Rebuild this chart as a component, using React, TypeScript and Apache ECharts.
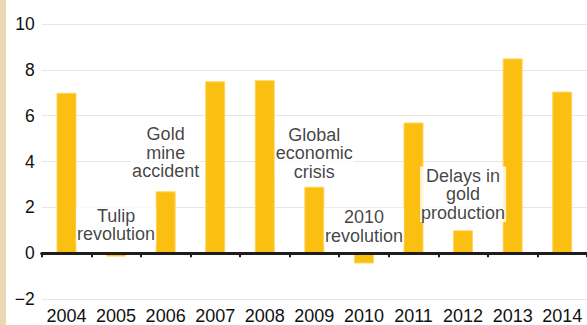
import React, { useEffect, useRef } from "react";
import * as echarts from "echarts";

const years = ["2004", "2005", "2006", "2007", "2008", "2009", "2010", "2011", "2012", "2013", "2014"];
const growth = [7.0, -0.15, 2.7, 7.5, 7.55, 2.9, -0.45, 5.7, 1.0, 8.5, 7.05];
const eventYears = ["2005", "2006", "2009", "2010", "2012"];
const eventTexts = ["Tulip\nrevolution", "Gold\nmine\naccident", "Global\neconomic\ncrisis", "2010\nrevolution", "Delays in\ngold\nproduction"];
const eventLevels = [1.22, 4.39, 4.35, 1.17, 2.57];
const yTicks = { min: -2, max: 10, interval: 2 };

const FONT = "'Liberation Sans', Arial, sans-serif";
const INK = "#111111";

export default function App() {
  const ref = useRef<HTMLDivElement>(null);
  useEffect(() => {
    document.body.style.margin = "0";
    const chart = echarts.init(ref.current!, null, { renderer: "svg" });
    chart.setOption({
      animation: false,
      backgroundColor: "#ffffff",
      graphic: [
        { type: "rect", left: 0, top: 0, shape: { width: 6, height: 325 }, style: { fill: "#e9d7b6" }, z: 10 },
      ],
      grid: { left: 41.7, right: -4.7, top: 24, bottom: 25, containLabel: false },
      xAxis: [
        {
          type: "category",
          data: years,
          axisLine: { show: true, onZero: true, lineStyle: { color: "#1e1c1d", width: 3 } },
          axisTick: { show: true, length: 4, lineStyle: { color: "#1e1c1d", width: 2 } },
          axisLabel: { show: false },
          z: 5,
        },
        {
          type: "category",
          data: years,
          position: "bottom",
          axisLine: { show: false, onZero: false },
          axisTick: { show: false },
          axisLabel: { show: true, interval: 0, color: INK, fontSize: 18, fontFamily: FONT, margin: 8 },
        },
      ],
      yAxis: {
        type: "value",
        min: yTicks.min,
        max: yTicks.max,
        interval: yTicks.interval,
        axisLine: { show: false },
        axisTick: { show: false },
        splitLine: { lineStyle: { color: "#e6e6e6", width: 1 } },
        axisLabel: {
          color: INK,
          fontSize: 17.5,
          fontFamily: FONT,
          margin: 7,
          formatter: (v: number) => (v < 0 ? "\u2212" + Math.abs(v) : String(v)),
        },
      },
      series: [
        {
          type: "bar",
          data: growth,
          barWidth: 20,
          itemStyle: { color: "#fbbf12", borderColor: "#fdd660", borderWidth: 1 },
          z: 2,
        },
        {
          type: "scatter",
          data: eventYears.map((y, i) => [y, eventLevels[i]]),
          symbolSize: 1,
          itemStyle: { color: "rgba(0,0,0,0)" },
          z: 3,
          label: {
            show: true,
            position: "inside",
            formatter: (p: any) => eventTexts[p.dataIndex],
            color: INK,
            fontSize: 18,
            fontFamily: FONT,
            lineHeight: 18.5,
            align: "center",
            verticalAlign: "middle",
            backgroundColor: "#ffffff",
            padding: [0, 1],
          },
        },
      ],
    });
    return () => chart.dispose();
  }, []);
  return <div ref={ref} style={{ width: 587, height: 325 }} />;
}
